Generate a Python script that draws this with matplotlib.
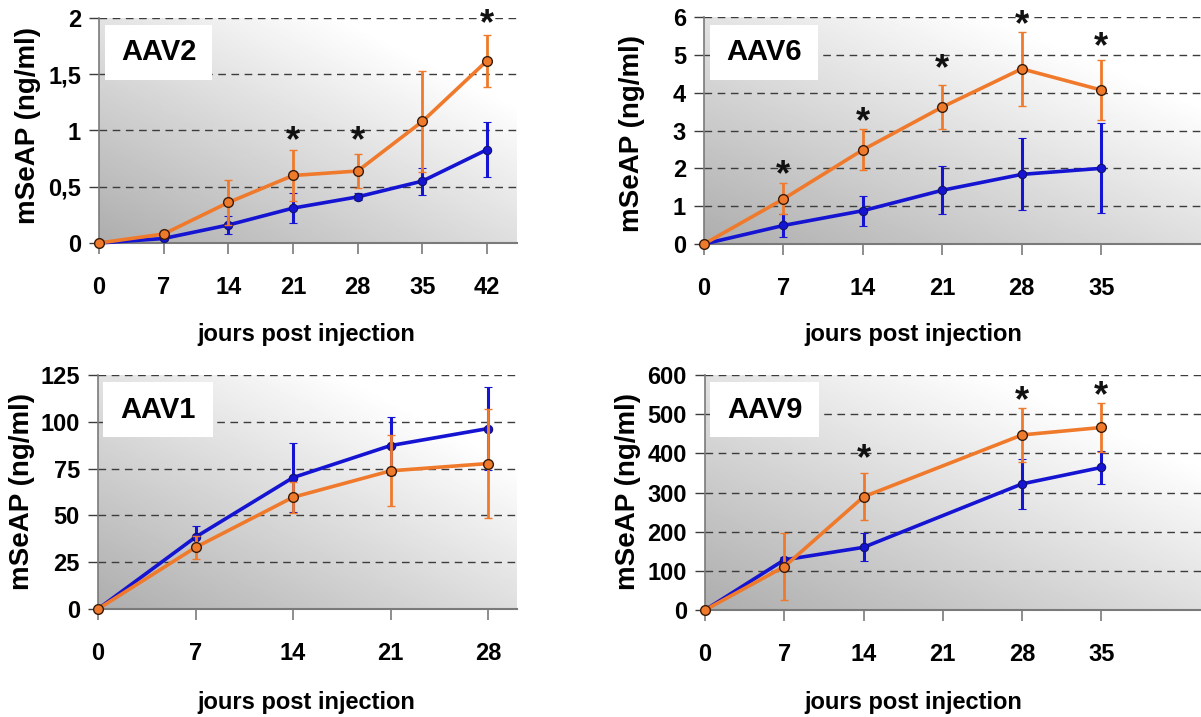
import numpy as np
import matplotlib
matplotlib.use("Agg")
import matplotlib.pyplot as plt
from matplotlib import font_manager
from matplotlib.patches import Rectangle

# ---------------- data ----------------
aav2_days = [0, 7, 14, 21, 28, 35, 42]
aav2_orange = [0, 0.08, 0.36, 0.60, 0.64, 1.08, 1.62]
aav2_orange_err = [0, 0.02, 0.20, 0.23, 0.15, 0.45, 0.23]
aav2_blue = [0, 0.04, 0.16, 0.31, 0.41, 0.55, 0.83]
aav2_blue_err = [0, 0.01, 0.08, 0.13, 0.03, 0.12, 0.245]
aav2_star_days = [21, 28, 42]
aav2_star_y = [1.00, 1.00, 2.04]
aav2_yticks = [0, 0.5, 1, 1.5, 2]
aav2_yticklabels = ["0", "0,5", "1", "1,5", "2"]
aav2_xticks = [0, 7, 14, 21, 28, 35, 42]

aav6_days = [0, 7, 14, 21, 28, 35]
aav6_orange = [0, 1.19, 2.49, 3.62, 4.63, 4.07]
aav6_orange_err = [0, 0.41, 0.54, 0.59, 0.97, 0.79]
aav6_blue = [0, 0.49, 0.88, 1.42, 1.84, 2.00]
aav6_blue_err = [0, 0.30, 0.40, 0.63, 0.95, 1.19]
aav6_star_days = [7, 14, 21, 28, 35]
aav6_star_y = [2.10, 3.50, 4.90, 6.08, 5.50]
aav6_yticks = [0, 1, 2, 3, 4, 5, 6]
aav6_yticklabels = ["0", "1", "2", "3", "4", "5", "6"]
aav6_xticks = [0, 7, 14, 21, 28, 35]

aav1_days = [0, 7, 14, 21, 28]
aav1_orange = [0, 32.9, 59.7, 73.8, 77.7]
aav1_orange_err = [0, 6.0, 8.4, 19.0, 29.0]
aav1_blue = [0, 38.4, 70.2, 87.3, 96.4]
aav1_blue_err = [0, 5.7, 18.3, 15.5, 22.0]
aav1_star_days = []
aav1_star_y = []
aav1_yticks = [0, 25, 50, 75, 100, 125]
aav1_yticklabels = ["0", "25", "50", "75", "100", "125"]
aav1_xticks = [0, 7, 14, 21, 28]

aav9_days = [0, 7, 14, 28, 35]
aav9_orange = [0, 110.6, 289, 447, 466]
aav9_orange_err = [0, 85, 60, 70, 62]
aav9_blue = [0, 128, 160, 322, 364]
aav9_blue_err = [0, 8, 36, 63, 43]
aav9_star_days = [14, 28, 35]
aav9_star_y = [412, 562, 574]
aav9_yticks = [0, 100, 200, 300, 400, 500, 600]
aav9_yticklabels = ["0", "100", "200", "300", "400", "500", "600"]
aav9_xticks = [0, 7, 14, 21, 28, 35]

titles = ["AAV2", "AAV6", "AAV1", "AAV9"]
xlabel_text = "jours post injection"
ylabel_text = "mSeAP (ng/ml)"

# ---------------- style ----------------
W, H = 1201, 717
ORANGE = "#f07a2c"
BLUE = "#1414d2"
GRID = "#3c3c3c"
SPINE = "#7a7a7a"

names = {f.name for f in font_manager.fontManager.ttflist}
NARROW = None
for cand in ["Liberation Sans Narrow", "Arial Narrow"]:
    if cand in names:
        NARROW = cand
        break
SANS = "Liberation Sans" if "Liberation Sans" in names else "DejaVu Sans"
TICK_FONT = NARROW if NARROW else SANS
TICK_FS = 18 if NARROW else 17
XLAB_FS = 20 if NARROW else 17

fig = plt.figure(figsize=(W / 100, H / 100), dpi=100)

# pixel boxes: left, right, top, bottom ; xmax
boxes = [
    (99, 517, 18, 243, 45.25),
    (704, 1201, 17, 244, 43.8),
    (98, 517, 375, 609, 30.08),
    (705, 1201, 375, 610, 43.8),
]
label_boxes = [
    (105, 212, 25, 80),
    (710, 818, 25, 80),
    (103, 213, 382, 437),
    (710, 819, 382, 437),
]
xlabel_pos = [(306, 335), (913, 335), (306, 702), (913, 702)]
ylabel_pos = [(28, 126), (632, 133), (22, 492), (628, 492)]

panels = [
    (aav2_days, aav2_orange, aav2_orange_err, aav2_blue, aav2_blue_err,
     aav2_star_days, aav2_star_y, aav2_yticks, aav2_yticklabels, aav2_xticks),
    (aav6_days, aav6_orange, aav6_orange_err, aav6_blue, aav6_blue_err,
     aav6_star_days, aav6_star_y, aav6_yticks, aav6_yticklabels, aav6_xticks),
    (aav1_days, aav1_orange, aav1_orange_err, aav1_blue, aav1_blue_err,
     aav1_star_days, aav1_star_y, aav1_yticks, aav1_yticklabels, aav1_xticks),
    (aav9_days, aav9_orange, aav9_orange_err, aav9_blue, aav9_blue_err,
     aav9_star_days, aav9_star_y, aav9_yticks, aav9_yticklabels, aav9_xticks),
]

# gradient background (grey lower-left -> white upper-right)
gx = np.linspace(0, 1, 300)
gy = np.linspace(0, 1, 200)
GX, GY = np.meshgrid(gx, gy)
grad = 0.68 + 0.32 * np.clip(0.6 * GX + 0.65 * GY, 0, 1)

STAR_FS = 26

for i, (pb, lb, xlp, ylp, pdata) in enumerate(zip(boxes, label_boxes, xlabel_pos, ylabel_pos, panels)):
    (days, oy, oe, by, be, sd, sy, yt, ytl, xt) = pdata
    l, r, t, b, xmax = pb
    ax = fig.add_axes([l / W, 1 - b / H, (r - l) / W, (b - t) / H])
    ax.imshow(grad, extent=[0, 1, 0, 1], transform=ax.transAxes, origin="lower",
              aspect="auto", cmap="gray", vmin=0, vmax=1, zorder=0, interpolation="bilinear")
    ax.set_xlim(0, xmax)
    ax.set_ylim(0, yt[-1])
    ax.set_aspect("auto")

    ax.set_yticks(yt)
    ax.set_yticklabels(ytl)
    ax.set_xticks(xt)
    ax.set_xticklabels([str(v) for v in xt])
    ax.yaxis.grid(True, linestyle=(0, (5.5, 4)), color=GRID, linewidth=1.0, zorder=1)
    ax.set_axisbelow(True)
    for lab in ax.get_xticklabels() + ax.get_yticklabels():
        lab.set_fontfamily(TICK_FONT)
        lab.set_fontweight("bold")
        lab.set_fontsize(TICK_FS)
        lab.set_color("black")
    ax.tick_params(axis="x", direction="out", length=8, width=1.2, color=SPINE, pad=16)
    ax.tick_params(axis="y", direction="out", length=7, width=1.0, color=GRID, pad=6)

    for s in ["top", "right"]:
        ax.spines[s].set_visible(False)
    ax.spines["left"].set_color(SPINE)
    ax.spines["left"].set_linewidth(1.2)
    ax.spines["bottom"].set_color(SPINE)
    ax.spines["bottom"].set_linewidth(1.5)

    # series: blue first, orange on top
    ax.errorbar(days, by, yerr=be, color=BLUE, lw=2.6, marker="o", ms=6,
                mfc=BLUE, mec="#101070", mew=0.8, elinewidth=2.2, capsize=3.2,
                capthick=2.6, ecolor=BLUE, zorder=3, clip_on=False)
    ax.errorbar(days, oy, yerr=oe, color=ORANGE, lw=2.6, marker="o", ms=7,
                mfc=ORANGE, mec="#3a1a08", mew=1.0, elinewidth=2.0, capsize=3.2,
                capthick=2.4, ecolor=ORANGE, zorder=4, clip_on=False)

    for d, yv in zip(sd, sy):
        ax.annotate("*", (d, yv), xytext=(0, -0.58 * STAR_FS), textcoords="offset points",
                    ha="center", va="baseline", fontsize=STAR_FS, fontweight="bold",
                    fontfamily=SANS, color="#111111", annotation_clip=False, zorder=6)

    # white label box
    bx0, bx1, by0, by1 = lb
    fig.patches.append(Rectangle((bx0 / W, 1 - by1 / H), (bx1 - bx0) / W, (by1 - by0) / H,
                                 transform=fig.transFigure, facecolor="white",
                                 edgecolor="none", zorder=5))
    fig.text((bx0 + bx1) / 2 / W, 1 - (by0 + by1) / 2 / H, titles[i], ha="center",
             va="center", fontsize=21, fontweight="bold", fontfamily=SANS, zorder=6)

    ax.set_xlabel(xlabel_text, fontsize=XLAB_FS, fontweight="bold", fontfamily=TICK_FONT)
    ax.xaxis.set_label_coords((xlp[0] - l) / (r - l), (b - xlp[1]) / (b - t))
    ax.xaxis.label.set_va("center")
    ax.set_ylabel(ylabel_text, fontsize=20, fontweight="bold", fontfamily=SANS)
    ax.yaxis.set_label_coords((ylp[0] - l) / (r - l), (b - ylp[1]) / (b - t))
    ax.yaxis.label.set_va("center")

fig.savefig("out.png", dpi=100)
